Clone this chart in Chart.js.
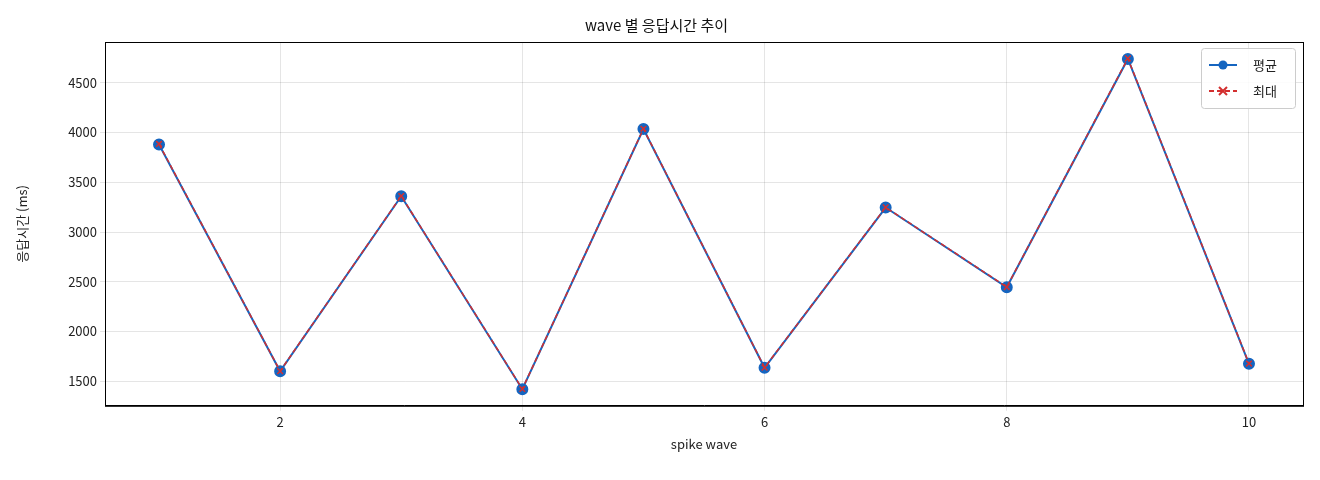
<!DOCTYPE html>
<html><head><meta charset="utf-8">
<script src="https://cdn.jsdelivr.net/npm/chart.js@4.4.0/dist/chart.umd.min.js"></script>
<style>html,body{margin:0;background:#fff}#w{width:1320px;height:480px}</style>
</head><body><div id="w"><canvas id="c"></canvas></div>
<script>
const waves=[1,2,3,4,5,6,7,8,9,10];
const avgMs=[3880,1600,3360,1420,4035,1635,3246,2445,4740,1675];
const maxMs=[3885,1602,3362,1422,4038,1637,3248,2447,4745,1678];
const xTicks=[2,4,6,8,10];
const yTicks=[1500,2000,2500,3000,3500,4000,4500];
const F="'Noto Sans CJK KR','Noto Sans',sans-serif";
const legendPlugin={id:'lg',afterDraw(ch){const c=ch.ctx,a=ch.chartArea;const x=a.right-102,y=a.top+6,w=94,h=60;
c.save();c.fillStyle='rgba(255,255,255,0.85)';c.strokeStyle='#ccc';c.lineWidth=1;c.beginPath();c.roundRect(x+.5,y+.5,w,h,3);c.fill();c.stroke();
c.font="13px "+F;c.textBaseline='middle';c.fillStyle='#222';
let ly=y+17;c.strokeStyle='#1565c0';c.lineWidth=2;c.beginPath();c.moveTo(x+8,ly);c.lineTo(x+36,ly);c.stroke();
c.fillStyle='#1565c0';c.beginPath();c.arc(x+22,ly,4.5,0,7);c.fill();c.fillStyle='#222';c.fillText('평균',x+52,ly);
ly=y+43;c.strokeStyle='#d32f2f';c.setLineDash([5,3]);c.beginPath();c.moveTo(x+8,ly);c.lineTo(x+36,ly);c.stroke();c.setLineDash([]);
c.beginPath();c.moveTo(x+18,ly-4);c.lineTo(x+26,ly+4);c.moveTo(x+26,ly-4);c.lineTo(x+18,ly+4);c.stroke();
c.fillStyle='#222';c.fillText('최대',x+52,ly);
c.strokeStyle='#000';c.lineWidth=1;c.strokeRect(a.left+.5,a.top+.5,a.right-a.left,a.bottom-a.top);c.restore();}};
new Chart(document.getElementById('c'),{type:'line',
data:{datasets:[
{label:'평균',data:waves.map((x,i)=>({x,y:avgMs[i]})),borderColor:'#1565c0',backgroundColor:'#1565c0',borderWidth:2,pointRadius:5,pointHoverRadius:5,order:2},
{label:'최대',data:waves.map((x,i)=>({x,y:maxMs[i]})),borderColor:'#d32f2f',backgroundColor:'#d32f2f',borderWidth:1.5,borderDash:[5,3],pointStyle:'cross',pointRotation:45,pointRadius:4,pointBorderWidth:1.5,order:1}]},
options:{responsive:true,maintainAspectRatio:false,animation:false,
layout:{padding:{left:10,right:17,top:8,bottom:24}},
plugins:{legend:{display:false},tooltip:{enabled:false},
title:{display:true,text:'wave 별 응답시간 추이',color:'#111',font:{family:F,size:15,weight:'normal'},padding:{top:8,bottom:8}}},
scales:{
x:{type:'linear',min:0.554,max:10.446,afterBuildTicks:s=>{s.ticks=xTicks.map(v=>({value:v}))},
grid:{color:'rgba(0,0,0,0.1)',drawTicks:true,tickLength:5},border:{color:'#000'},
ticks:{color:'#222',font:{family:F,size:13}},
title:{display:true,text:'spike wave',color:'#222',font:{family:F,size:13}}},
y:{min:1253,max:4910,afterBuildTicks:s=>{s.ticks=yTicks.map(v=>({value:v}))},afterFit:s=>{s.width=95},
grid:{color:'rgba(0,0,0,0.1)',tickLength:5},border:{color:'#000'},
ticks:{color:'#222',font:{family:F,size:13},callback:v=>String(v)},
title:{display:true,text:'응답시간 (ms)',color:'#222',font:{family:F,size:13}}}}},
plugins:[legendPlugin]});
</script></body></html>
